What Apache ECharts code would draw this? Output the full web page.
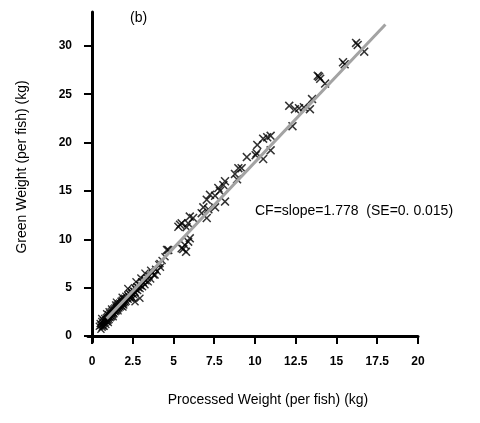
<!DOCTYPE html>
<html>
<head>
<meta charset="utf-8">
<style type="text/css">
html, body {margin: 0; padding: 0; background: #fff;}
</style>
</head>
<body>
<div style="width: 480px;height: 423px;" id="chart"></div>
<script src="https://cdn.jsdelivr.net/npm/echarts@6/dist/echarts.min.js"></script>
<script>

// tick labels
let xTicks = [0, 2.5, 5, 7.5, 10, 12.5, 15, 17.5, 20];
let yTicks = [0, 5, 10, 15, 20, 25, 30];

// processed weight vs green weight (dense cluster near origin)
let clusterPoints = [
    [0.45, 1.0], [0.5, 1.3], [0.55, 1.1], [0.6, 1.5], [0.62, 0.9], [0.65, 1.2], [0.7, 1.6], [0.72, 1.3],
    [0.75, 1.0], [0.78, 1.8], [0.8, 1.4], [0.82, 1.6], [0.85, 1.2], [0.88, 1.9], [0.9, 1.5], [0.92, 1.7],
    [0.95, 2.0], [0.98, 1.6], [1.0, 1.9], [1.02, 2.2], [1.05, 1.7], [1.08, 2.0], [1.1, 2.3], [1.12, 1.9],
    [1.15, 2.1], [1.18, 2.5], [1.2, 2.0], [1.22, 2.3], [1.25, 2.6], [1.28, 2.2], [1.3, 2.4], [1.33, 2.8],
    [1.35, 2.3], [1.38, 2.6], [1.4, 2.9], [1.42, 2.5], [1.45, 2.7], [1.48, 3.0], [1.5, 2.6], [1.52, 2.9],
    [1.55, 3.2], [1.58, 2.8], [1.6, 3.0], [1.63, 3.3], [1.65, 2.9], [1.68, 3.1], [1.7, 3.4], [1.73, 3.0],
    [1.75, 3.3], [1.78, 3.6], [1.8, 3.1], [1.83, 3.4], [1.85, 3.7], [1.88, 3.3], [1.9, 3.5], [1.93, 3.8],
    [1.95, 3.4], [1.98, 3.6], [2.0, 3.9], [2.03, 3.5], [2.05, 3.8], [2.08, 4.1], [2.1, 3.6], [2.15, 3.9],
    [2.2, 4.2], [2.22, 3.8], [2.25, 4.1], [2.3, 4.4], [2.32, 4.0], [2.35, 4.3], [2.4, 4.6], [2.42, 4.1],
    [2.45, 4.4], [2.5, 4.7], [2.55, 4.3], [2.6, 4.6], [2.62, 5.0], [2.65, 4.5], [2.7, 4.8], [2.75, 5.1],
    [2.8, 4.7], [2.85, 5.0], [2.9, 5.3], [2.95, 4.9], [3.0, 5.2], [3.05, 5.6], [3.1, 5.1], [3.15, 5.5],
    [3.2, 5.8], [3.25, 5.3], [3.3, 5.7], [3.4, 6.0], [3.45, 5.6], [3.5, 6.2], [3.6, 5.9], [3.7, 6.5],
    [3.8, 6.3], [3.9, 6.9], [4.0, 6.7], [4.1, 7.4], [4.2, 7.1], [4.3, 7.8], [4.48, 8.2], [4.17, 7.5],
    [2.94, 3.9], [2.64, 3.55], [3.25, 6.5], [3.87, 6.3], [1.5, 3.5], [1.2, 2.8], [2.2, 4.9], [3.0, 6.0],
    [2.7, 5.6], [0.9, 2.3], [2.5, 3.9], [1.9, 3.0], [3.6, 6.8], [0.55, 0.7], [0.68, 1.0], [1.0, 1.4],
    [1.3, 2.0], [1.6, 2.6], [1.95, 3.2], [2.35, 3.9], [0.6, 1.8], [1.05, 2.5], [1.45, 3.2], [1.85, 4.0]
];

// larger fish
let upperPoints = [
    [4.6, 8.9], [4.68, 8.9], [5.4, 11.5], [5.3, 11.3], [5.5, 11.65], [5.8, 11.25], [5.9, 11.65], [6.0, 12.35],
    [6.2, 12.2], [6.0, 10.1], [5.9, 9.75], [5.7, 9.4], [5.5, 9.07], [5.77, 8.7], [5.6, 9.0], [6.73, 12.7],
    [7.04, 12.2], [6.83, 13.3], [7.14, 13.1], [7.55, 13.3], [7.04, 14.1], [8.16, 13.9], [7.24, 14.6], [7.55, 14.5],
    [7.75, 15.3], [7.85, 15.0], [8.06, 15.6], [8.16, 16.0], [8.9, 16.2], [8.77, 16.76], [8.98, 17.35], [9.18, 17.35],
    [9.5, 18.5], [10.04, 18.7], [10.5, 18.3], [10.96, 19.2], [10.1, 18.9], [10.14, 19.76], [10.5, 20.4], [10.75, 20.55],
    [10.96, 20.7], [12.3, 21.7], [12.1, 23.8], [12.45, 23.45], [12.7, 23.55], [13.0, 23.65], [13.37, 23.45], [13.5, 24.5],
    [14.3, 26.1], [13.93, 26.8], [14.0, 26.6], [13.85, 26.9], [15.4, 28.3], [15.5, 28.1], [16.2, 30.3], [16.3, 30.1],
    [16.7, 29.4]
];

// fitted line, slope 1.778
let fitLine = [[0.9, 1.8], [18, 32.2]];

let chart = echarts.init(document.getElementById('chart'));

let crossSymbol = 'path://M0,1.2L1.2,0L5,3.8L8.8,0L10,1.2L6.2,5L10,8.8L8.8,10L5,6.2L1.2,10L0,8.8L3.8,5Z';
let font = '"Liberation Sans", Arial, sans-serif';

let axisCommon = {
    type: 'value',
    splitLine: {show: false},
    axisLine: {show: true, lineStyle: {color: '#000', width: 3}},
    axisTick: {show: true, length: 8, lineStyle: {color: '#000', width: 2}},
    axisLabel: {color: '#000', fontFamily: font, fontWeight: 'bold', fontSize: 12}
};

let option = {
    animation: false,
    grid: {left: 88, right: 62, top: 12, bottom: 81, containLabel: false},
    xAxis: echarts.util.merge({
        min: -0.245,
        max: 20,
        axisTick: {customValues: xTicks},
        axisLabel: {customValues: xTicks, margin: 14}
    }, axisCommon),
    yAxis: echarts.util.merge({
        min: -0.62,
        max: 33.5,
        axisTick: {customValues: yTicks},
        axisLabel: {customValues: yTicks, margin: 16}
    }, axisCommon),
    graphic: [
        {type: 'text', left: 130, top: 11, style: {text: '(b)', font: '14px ' + font, fill: '#000'}},
        {type: 'text', left: 255, top: 204, style: {text: 'CF=slope=1.778  (SE=0. 0.015)', font: '14px ' + font, fill: '#000'}},
        {type: 'text', x: 268, y: 400, style: {text: 'Processed Weight (per fish) (kg)', font: '14px ' + font, fill: '#000', align: 'center', verticalAlign: 'middle'}},
        {type: 'text', x: 22, y: 167, rotation: Math.PI / 2, style: {text: 'Green Weight (per fish) (kg)', font: '14px ' + font, fill: '#000', align: 'center', verticalAlign: 'middle'}}
    ],
    series: [
        {
            type: 'scatter',
            data: clusterPoints,
            symbol: crossSymbol,
            symbolSize: 8,
            itemStyle: {color: '#000'},
            z: 2
        },
        {
            type: 'scatter',
            data: upperPoints,
            symbol: crossSymbol,
            symbolSize: 9,
            itemStyle: {color: '#000'},
            z: 2
        },
        {
            type: 'line',
            data: fitLine,
            showSymbol: false,
            symbol: 'none',
            lineStyle: {color: '#a3a3a3', width: 3},
            z: 3
        }
    ]
};

chart.setOption(option);

</script>
</body>
</html>
